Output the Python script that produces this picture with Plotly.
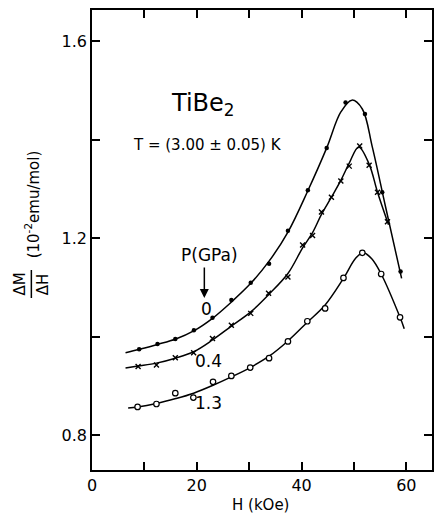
import plotly.graph_objects as go

# ---- data ----
# P = 0 GPa (filled dots)
h0 = [9.0, 12.5, 15.9, 19.45, 23.0, 26.6, 30.3, 33.8, 37.4, 41.2, 44.8, 48.4, 52.1, 55.4, 58.9]
m0 = [0.974, 0.985, 0.995, 1.013, 1.038, 1.074, 1.109, 1.148, 1.215, 1.297, 1.383, 1.475, 1.452, 1.293, 1.132]
# P = 0.4 GPa (crosses)
h04 = [8.8, 12.3, 15.9, 19.4, 23.0, 26.6, 30.3, 33.7, 37.4, 40.2, 42.1, 43.8, 45.7, 47.5, 49.1, 51.1, 52.9, 54.5, 56.4]
m04 = [0.939, 0.942, 0.957, 0.967, 0.996, 1.023, 1.047, 1.088, 1.121, 1.186, 1.205, 1.253, 1.283, 1.316, 1.346, 1.387, 1.348, 1.293, 1.233]
# P = 1.3 GPa (open circles)
h13 = [8.7, 12.3, 15.9, 19.35, 23.1, 26.6, 30.2, 33.8, 37.4, 41.1, 44.5, 48.0, 51.6, 55.2, 58.8]
m13 = [0.857, 0.863, 0.885, 0.876, 0.908, 0.920, 0.937, 0.956, 0.990, 1.031, 1.057, 1.119, 1.170, 1.127, 1.039]

# fitted curves
c0_h = [6.4, 9, 12.5, 16, 19.5, 23, 26.6, 30.3, 33.8, 37.4, 41.2, 44.8, 47.5, 49.6, 51.6, 53.5, 56, 59.1]
c0_m = [0.967, 0.974, 0.984, 0.995, 1.012, 1.037, 1.070, 1.108, 1.153, 1.212, 1.296, 1.383, 1.456, 1.480, 1.462, 1.385, 1.265, 1.118]
c04_h = [6.4, 8.8, 12.3, 15.9, 19.4, 23, 26.6, 30.3, 33.7, 37.4, 40.2, 42.1, 43.8, 45.7, 47.5, 49.1, 50.9, 52.9, 54.5, 56.6]
c04_m = [0.936, 0.940, 0.946, 0.956, 0.969, 0.993, 1.021, 1.050, 1.085, 1.128, 1.180, 1.211, 1.248, 1.283, 1.317, 1.352, 1.385, 1.350, 1.293, 1.227]
c13_h = [6.9, 8.7, 12.3, 16, 19.4, 23.1, 26.6, 30.2, 33.8, 37.4, 41.1, 44.5, 48, 50.4, 51.8, 53.4, 55.2, 58.8, 59.6]
c13_m = [0.855, 0.857, 0.864, 0.874, 0.885, 0.901, 0.918, 0.937, 0.960, 0.991, 1.029, 1.064, 1.118, 1.160, 1.170, 1.158, 1.127, 1.039, 1.016]

x_ticks = [0, 10, 20, 30, 40, 50, 60]
x_labels = ["0", "", "20", "", "40", "", "60"]
y_ticks = [0.8, 1.0, 1.2, 1.4, 1.6]
y_labels = ["0.8", "", "1.2", "", "1.6"]
p_labels = ["0", "0.4", "1.3"]

FONT = "DejaVu Sans"
W, H = 434, 517
L, R, T, B = 92, 0, 10, 47
PW, PH = W - L - R, H - T - B


def px(x, y):
    return (x - L) / PW, (H - B - y) / PH


fig = go.Figure()
line = dict(color="black", width=1.5)
for ch, cm in [(c0_h, c0_m), (c04_h, c04_m), (c13_h, c13_m)]:
    fig.add_trace(go.Scatter(x=ch, y=cm, mode="lines", line=dict(line, shape="spline", smoothing=1.0),
                             hoverinfo="skip", showlegend=False))

fig.add_trace(go.Scatter(x=h0, y=m0, mode="markers",
                         marker=dict(symbol="circle", size=4.5, color="black"), showlegend=False))
fig.add_trace(go.Scatter(x=h04, y=m04, mode="markers",
                         marker=dict(symbol="x-thin-open", size=5, color="black",
                                     line=dict(color="black", width=1.4)), showlegend=False))
fig.add_trace(go.Scatter(x=h13, y=m13, mode="markers",
                         marker=dict(symbol="circle", size=5.5, color="white",
                                     line=dict(color="black", width=1.2)), showlegend=False))

ann = []


def text(s, x, y, size, angle=0):
    ax, ay = px(x, y)
    ann.append(dict(text=s, x=ax, y=ay, xref="paper", yref="paper", showarrow=False,
                    xanchor="center", yanchor="middle", textangle=angle,
                    font=dict(family=FONT, size=size, color="black")))


text("TiBe<sub>2</sub>", 204, 104, 24)
text("T = (3.00 ± 0.05) K", 208, 145, 15)
text("P(GPa)", 210, 255, 17)
text(p_labels[0], 207, 309, 17)
text(p_labels[1], 209, 361, 17)
text(p_labels[2], 209, 403, 17)
text("H (kOe)", 261, 505, 15)
text("(10<sup>-2</sup>emu/mol)", 32, 204, 15, -90)
text("ΔM", 20, 284, 15, -90)
text("ΔH", 43, 284, 15, -90)

tx, ty = px(205, 298)
ann.append(dict(x=tx, y=ty, xref="paper", yref="paper", showarrow=True, ax=0, ay=-32,
                arrowhead=2, arrowsize=1.2, arrowwidth=1.5, arrowcolor="black", text=""))

bx0, by0 = px(31, 270)
bx1, by1 = px(31, 298)
fig.add_shape(type="line", xref="paper", yref="paper", x0=bx0, x1=bx1, y0=by0, y1=by1,
              line=dict(color="black", width=1.5))

axis_common = dict(showgrid=False, zeroline=False, showline=True, linecolor="black", linewidth=1.6,
                   ticks="inside", ticklen=8, tickwidth=1.5, tickcolor="black", mirror="ticks",
                   tickfont=dict(family=FONT, size=16, color="black"))

fig.update_layout(
    width=W, height=H,
    margin=dict(l=L, r=R, t=T, b=B),
    paper_bgcolor="white", plot_bgcolor="white",
    xaxis=dict(axis_common, range=[0, 64.9], tickvals=x_ticks, ticktext=x_labels),
    yaxis=dict(axis_common, range=[0.729, 1.663], tickvals=y_ticks, ticktext=y_labels),
    annotations=ann,
    showlegend=False,
)

fig.write_html("out.html")
